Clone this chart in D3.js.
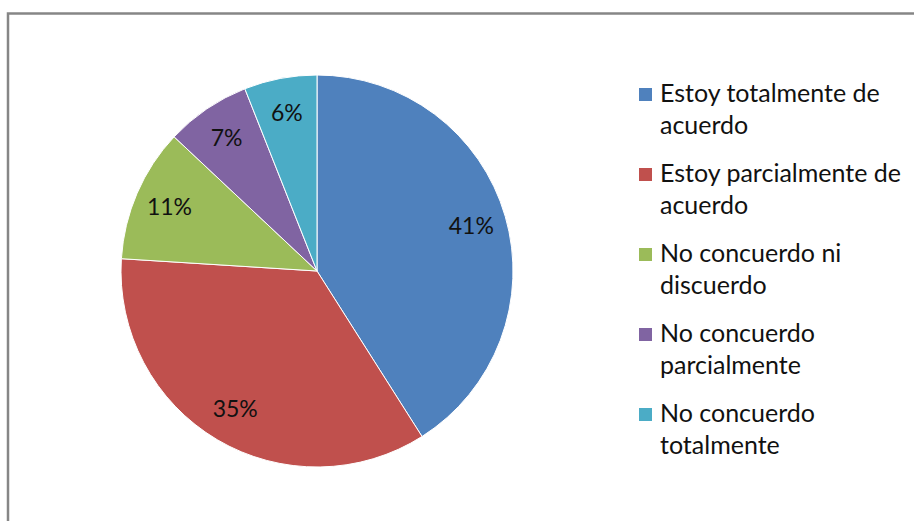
<!DOCTYPE html>
<html>
<head>
<meta charset="utf-8">
<script src="https://cdn.jsdelivr.net/npm/d3@7"></script>
<style>
html,body{margin:0;padding:0;background:#fff;overflow:hidden;}
svg{display:block;}
</style>
</head>
<body>
<svg id="chart" width="914" height="521"></svg>
<script>
const categories = [
  ["Estoy totalmente de", "acuerdo"],
  ["Estoy parcialmente de", "acuerdo"],
  ["No concuerdo ni", "discuerdo"],
  ["No concuerdo", "parcialmente"],
  ["No concuerdo", "totalmente"]
];
const values = [41, 35, 11, 7, 6];
const labels = ["41%", "35%", "11%", "7%", "6%"];
const colors = ["#4F81BD", "#C0504D", "#9BBB59", "#8064A2", "#4BACC6"];

const svg = d3.select("#chart");
const FONT = "Lato, 'Open Sans', sans-serif";

// frame
svg.append("rect")
  .attr("x", 8).attr("y", 13.5)
  .attr("width", 1000).attr("height", 1000)
  .attr("fill", "none").attr("stroke", "#868686").attr("stroke-width", 2.5);

const cx = 317, cy = 271, r = 196;
const data = values.map((v, i) => ({v, i}));
const pie = d3.pie().value(d => d.v).sort(null);
const arcs = pie(data);
const arc = d3.arc().innerRadius(0).outerRadius(r);
const labelArc = d3.arc().innerRadius(r * 0.82).outerRadius(r * 0.82);

const g = svg.append("g").attr("transform", `translate(${cx},${cy})`);
g.selectAll("path").data(arcs).join("path")
  .attr("d", arc)
  .attr("fill", d => colors[d.data.i])
  .attr("stroke", "#fff").attr("stroke-width", 1);

g.selectAll("text").data(arcs).join("text")
  .attr("x", d => labelArc.centroid(d)[0])
  .attr("y", d => labelArc.centroid(d)[1])
  .attr("dy", "0.35em")
  .attr("text-anchor", "middle")
  .attr("font-family", FONT).attr("font-size", 23)
  .attr("fill", "#111")
  .text(d => labels[d.data.i]);

// legend
const lg = svg.append("g");
const y = d3.scaleLinear().domain([0, 1]).range([102, 182]);
categories.forEach((lines, i) => {
  const by = y(i);
  lg.append("rect").attr("x", 639).attr("y", by - 14)
    .attr("width", 13).attr("height", 13).attr("fill", colors[i]);
  const t = lg.append("text").attr("x", 660).attr("y", by)
    .attr("font-family", FONT).attr("font-size", 25).attr("fill", "#111");
  lines.forEach((ln, j) => {
    t.append("tspan").attr("x", 660).attr("y", by + j * 32).text(ln);
  });
});
</script>
</body>
</html>
